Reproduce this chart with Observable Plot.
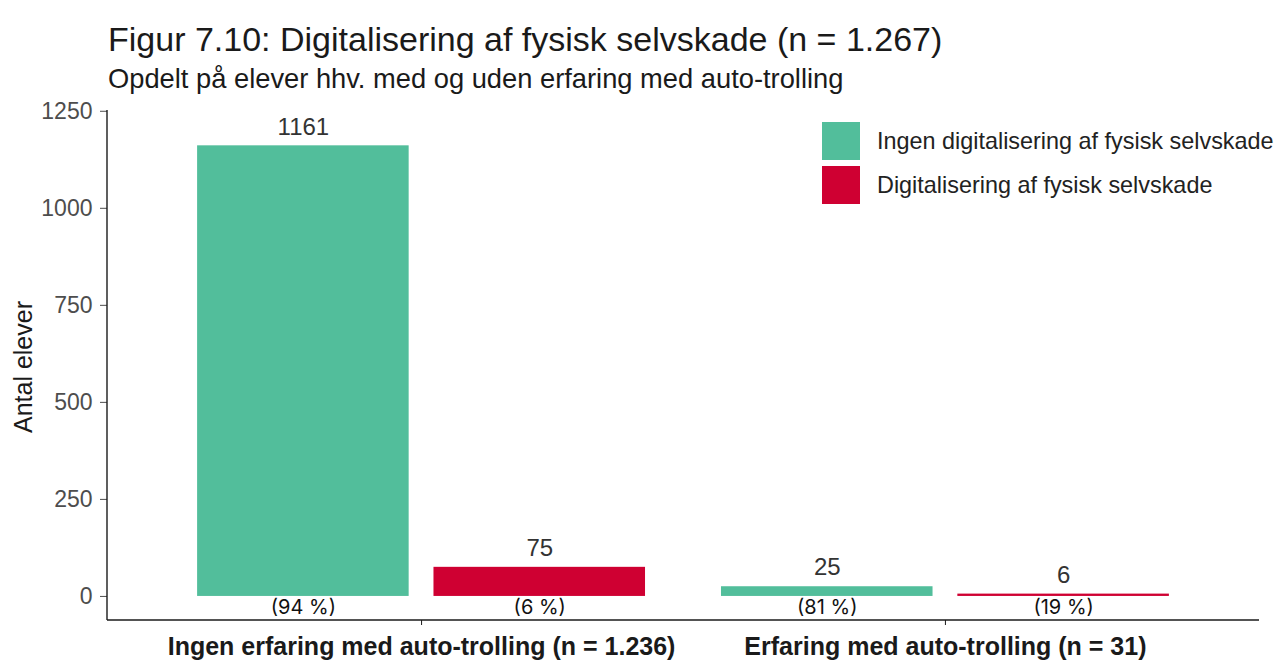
<!DOCTYPE html>
<html>
<head>
<meta charset="utf-8">
<script src="https://cdn.jsdelivr.net/npm/d3@7"></script>
<script src="https://cdn.jsdelivr.net/npm/@observablehq/plot@0.6"></script>
<style>
  html, body { margin: 0; padding: 0; background: #fff; }
  #wrap { position: relative; width: 1277px; height: 660px; font-family: "Liberation Sans", Arial, sans-serif; overflow: hidden; }
  #title { position: absolute; left: 108px; top: 22px; font-size: 34px; line-height: 34px; color: #1a1a1a; white-space: nowrap; }
  #subtitle { position: absolute; left: 108px; top: 65px; font-size: 27.3px; line-height: 27px; color: #1a1a1a; white-space: nowrap; }
  #chart { position: absolute; left: 0; top: 95px; }
  #ylabel { position: absolute; left: 23px; top: 367px; transform: translate(-50%, -50%) rotate(-90deg); font-size: 25px; color: #1a1a1a; white-space: nowrap; }
  #legend { position: absolute; left: 822px; top: 119px; }
  .item { display: flex; align-items: center; height: 44px; }
  .sw { width: 38px; height: 38px; margin-right: 17px; }
  .lt { font-size: 23.4px; color: #222; white-space: nowrap; }
</style>
</head>
<body>
<div id="wrap">
  <div id="title"></div>
  <div id="subtitle"></div>
  <div id="chart"></div>
  <div id="ylabel"></div>
  <div id="legend"></div>
</div>
<script>
const titleText = "Figur 7.10: Digitalisering af fysisk selvskade (n = 1.267)";
const subtitleText = "Opdelt på elever hhv. med og uden erfaring med auto-trolling";
const yLabelText = "Antal elever";
const groups = ["Ingen erfaring med auto-trolling (n = 1.236)", "Erfaring med auto-trolling (n = 31)"];
const series = ["Ingen digitalisering af fysisk selvskade", "Digitalisering af fysisk selvskade"];
const colors = ["#52be9b", "#cf0032"];
const ingenValues = [1161, 25];
const digValues = [75, 6];
const ingenPct = ["(94 %)", "(81 %)"];
const digPct = ["(6 %)", "(19 %)"];
const yTicks = [0, 250, 500, 750, 1000, 1250];

const rows = groups.flatMap((g, i) => [
  {group: g, series: series[0], value: ingenValues[i], pct: ingenPct[i]},
  {group: g, series: series[1], value: digValues[i], pct: digPct[i]}
]);

document.getElementById("title").textContent = titleText;
document.getElementById("subtitle").textContent = subtitleText;
document.getElementById("ylabel").textContent = yLabelText;

const legend = document.getElementById("legend");
series.forEach((s, i) => {
  const it = document.createElement("div");
  it.className = "item";
  it.innerHTML = `<div class="sw" style="background:${colors[i]}"></div><div class="lt"></div>`;
  it.querySelector(".lt").textContent = s;
  legend.appendChild(it);
});

const W = 1277, H = 565, mL = 107, mR = 18, mT = 15, mB = 40;
const fxOpts = {domain: groups, paddingInner: 0.145, paddingOuter: 0.172, round: false, label: null};
const base = {
  width: W, height: H,
  marginLeft: mL, marginRight: mR, marginTop: mT, marginBottom: mB,
  style: {fontFamily: "'Liberation Sans', Arial, sans-serif", background: "white", overflow: "visible"},
  fx: fxOpts,
  x: {domain: series, paddingInner: 0.105, paddingOuter: 0, round: false, axis: null},
  y: {domain: [-62, 1252], label: null},
  color: {domain: series, range: colors}
};

// find the offset of the leftmost facet so the y axis sits on the panel edge
let facetLeft;
try {
  const probe = Plot.plot({...base, marks: [Plot.barY(rows, {fx: "group", x: "series", y: "value"})]});
  facetLeft = probe.scale("fx").apply(groups[0]);
} catch (e) { facetLeft = undefined; }
if (!(facetLeft > 0)) {
  facetLeft = d3.scaleBand().domain(groups).range([mL, W - mR])
    .paddingInner(fxOpts.paddingInner).paddingOuter(fxOpts.paddingOuter)(groups[0]);
}
const yOff = facetLeft - mL;

const chart = Plot.plot({
  ...base,
  marks: [
    Plot.axisY({ticks: yTicks, tickFormat: d => String(d), tickSize: 7, tickPadding: 8, fontSize: 23, color: "#4d4d4d", label: null, dx: -yOff}),
    Plot.axisFx({anchor: "bottom", tickSize: 5, tickPadding: 12, fontSize: 25, fontWeight: "bold", color: "#1a1a1a", label: null}),
    Plot.barY(rows, {fx: "group", x: "series", y: "value", fill: "series"}),
    Plot.text(rows, {fx: "group", x: "series", y: "value", text: d => String(d.value), dy: -19, fontSize: 24, fill: "#333"}),
    Plot.text(rows, {fx: "group", x: "series", y: () => 0, text: "pct", dy: 11, fontSize: 20, fill: "#111", letterSpacing: "-0.5px", fontFamily: "Inter, 'Noto Sans', sans-serif"})
  ]
});

document.getElementById("chart").appendChild(chart);

// axis lines (ggplot classic theme)
const svg = d3.select(chart);
svg.append("line").attr("x1", mL).attr("x2", mL).attr("y1", mT).attr("y2", H - mB)
  .attr("stroke", "#1a1a1a").attr("stroke-width", 1.4);
svg.append("line").attr("x1", mL).attr("x2", W - mR).attr("y1", H - mB).attr("y2", H - mB)
  .attr("stroke", "#1a1a1a").attr("stroke-width", 1.4);
</script>
</body>
</html>
